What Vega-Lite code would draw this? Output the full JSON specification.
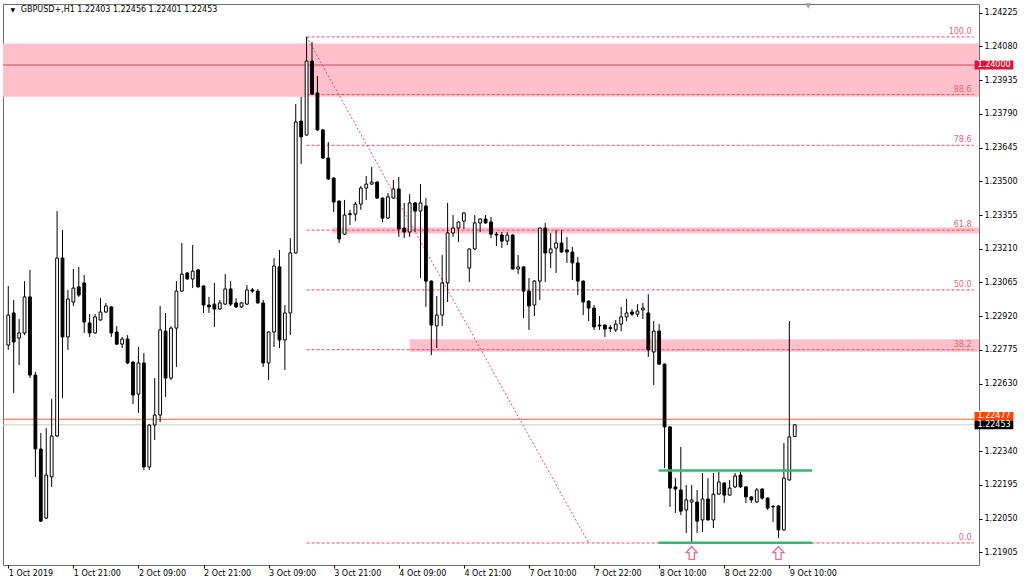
{
  "$schema": "https://vega.github.io/schema/vega-lite/v6.json",
  "width": 976,
  "height": 561,
  "autosize": {"type": "none"},
  "padding": {"left": 3, "top": 4, "right": 45, "bottom": 18},
  "background": "#ffffff",
  "config": {
    "view": {"stroke": "#6e6e6e", "strokeWidth": 1},
    "font": "DejaVu Sans",
    "axis": {"labelFont": "DejaVu Sans", "labelFontSize": 8, "labelColor": "#000000", "tickColor": "#000000", "grid": false, "domain": false, "title": null, "labelOverlap": false}
  },
  "resolve": {"axis": {"y": "independent"}},
  "data": {"values": [{}]},
  "datasets": {
    "bars": [
      {"n":0,"o":1.22796,"h":1.23050,"l":1.22775,"c":1.22925},
      {"n":1,"o":1.22934,"h":1.22990,"l":1.22590,"c":1.22809},
      {"n":2,"o":1.22826,"h":1.22908,"l":1.22710,"c":1.22848},
      {"n":3,"o":1.22848,"h":1.23071,"l":1.22839,"c":1.23003},
      {"n":4,"o":1.23003,"h":1.23119,"l":1.22654,"c":1.22667},
      {"n":5,"o":1.22667,"h":1.22680,"l":1.22229,"c":1.22349},
      {"n":6,"o":1.22349,"h":1.22418,"l":1.22035,"c":1.22039},
      {"n":7,"o":1.22052,"h":1.22439,"l":1.22048,"c":1.22237},
      {"n":8,"o":1.22229,"h":1.22564,"l":1.22186,"c":1.22405},
      {"n":9,"o":1.22405,"h":1.23372,"l":1.22400,"c":1.23170},
      {"n":10,"o":1.23170,"h":1.23291,"l":1.22568,"c":1.22831},
      {"n":11,"o":1.22831,"h":1.23033,"l":1.22775,"c":1.22994},
      {"n":12,"o":1.22981,"h":1.23123,"l":1.22964,"c":1.23041},
      {"n":13,"o":1.23046,"h":1.23132,"l":1.23003,"c":1.23011},
      {"n":14,"o":1.23063,"h":1.23097,"l":1.22848,"c":1.22895},
      {"n":15,"o":1.22891,"h":1.22929,"l":1.22831,"c":1.22848},
      {"n":16,"o":1.22848,"h":1.22929,"l":1.22845,"c":1.22917},
      {"n":17,"o":1.22904,"h":1.22998,"l":1.22900,"c":1.22938},
      {"n":18,"o":1.22938,"h":1.22977,"l":1.22934,"c":1.22964},
      {"n":19,"o":1.22960,"h":1.22963,"l":1.22831,"c":1.22848},
      {"n":20,"o":1.22852,"h":1.22878,"l":1.22796,"c":1.22800},
      {"n":21,"o":1.22800,"h":1.22831,"l":1.22783,"c":1.22822},
      {"n":22,"o":1.22822,"h":1.22839,"l":1.22714,"c":1.22719},
      {"n":23,"o":1.22723,"h":1.22726,"l":1.22542,"c":1.22581},
      {"n":24,"o":1.22585,"h":1.22788,"l":1.22504,"c":1.22719},
      {"n":25,"o":1.22719,"h":1.22762,"l":1.22259,"c":1.22272},
      {"n":26,"o":1.22272,"h":1.22455,"l":1.22259,"c":1.22452},
      {"n":27,"o":1.22452,"h":1.22654,"l":1.22388,"c":1.22495},
      {"n":28,"o":1.22495,"h":1.22964,"l":1.22465,"c":1.22861},
      {"n":29,"o":1.22856,"h":1.22934,"l":1.22573,"c":1.22654},
      {"n":30,"o":1.22654,"h":1.22877,"l":1.22646,"c":1.22869},
      {"n":31,"o":1.22869,"h":1.23071,"l":1.22702,"c":1.23028},
      {"n":32,"o":1.23028,"h":1.23235,"l":1.23025,"c":1.23101},
      {"n":33,"o":1.23106,"h":1.23109,"l":1.23077,"c":1.23080},
      {"n":34,"o":1.23080,"h":1.23226,"l":1.23041,"c":1.23114},
      {"n":35,"o":1.23119,"h":1.23122,"l":1.23043,"c":1.23046},
      {"n":36,"o":1.23050,"h":1.23053,"l":1.22934,"c":1.22968},
      {"n":37,"o":1.22968,"h":1.23003,"l":1.22934,"c":1.22960},
      {"n":38,"o":1.22972,"h":1.23063,"l":1.22874,"c":1.22951},
      {"n":39,"o":1.22951,"h":1.22990,"l":1.22947,"c":1.22977},
      {"n":40,"o":1.22972,"h":1.23101,"l":1.22969,"c":1.23037},
      {"n":41,"o":1.23037,"h":1.23071,"l":1.22964,"c":1.22972},
      {"n":42,"o":1.22977,"h":1.22998,"l":1.22955,"c":1.22960},
      {"n":43,"o":1.22960,"h":1.22981,"l":1.22955,"c":1.22977},
      {"n":44,"o":1.22972,"h":1.23054,"l":1.22969,"c":1.23033},
      {"n":45,"o":1.23033,"h":1.23041,"l":1.23020,"c":1.23028},
      {"n":46,"o":1.23028,"h":1.23036,"l":1.22974,"c":1.22977},
      {"n":47,"o":1.22977,"h":1.22990,"l":1.22702,"c":1.22719},
      {"n":48,"o":1.22719,"h":1.22855,"l":1.22646,"c":1.22852},
      {"n":49,"o":1.22852,"h":1.23170,"l":1.22788,"c":1.23136},
      {"n":50,"o":1.23132,"h":1.23205,"l":1.22783,"c":1.22818},
      {"n":51,"o":1.22818,"h":1.22968,"l":1.22689,"c":1.22934},
      {"n":52,"o":1.22934,"h":1.23256,"l":1.22839,"c":1.23192},
      {"n":53,"o":1.23192,"h":1.23832,"l":1.23189,"c":1.23755},
      {"n":54,"o":1.23759,"h":1.23863,"l":1.23574,"c":1.23691},
      {"n":55,"o":1.23699,"h":1.24121,"l":1.23696,"c":1.24017},
      {"n":56,"o":1.24017,"h":1.24099,"l":1.23872,"c":1.23875},
      {"n":57,"o":1.23880,"h":1.23953,"l":1.23716,"c":1.23721},
      {"n":58,"o":1.23721,"h":1.23724,"l":1.23596,"c":1.23600},
      {"n":59,"o":1.23600,"h":1.23669,"l":1.23506,"c":1.23510},
      {"n":60,"o":1.23514,"h":1.23517,"l":1.23368,"c":1.23411},
      {"n":61,"o":1.23415,"h":1.23418,"l":1.23235,"c":1.23252},
      {"n":62,"o":1.23273,"h":1.23420,"l":1.23270,"c":1.23355},
      {"n":63,"o":1.23357,"h":1.23377,"l":1.23312,"c":1.23361},
      {"n":64,"o":1.23359,"h":1.23411,"l":1.23329,"c":1.23402},
      {"n":65,"o":1.23402,"h":1.23480,"l":1.23377,"c":1.23471},
      {"n":66,"o":1.23471,"h":1.23523,"l":1.23420,"c":1.23488},
      {"n":67,"o":1.23488,"h":1.23562,"l":1.23485,"c":1.23497},
      {"n":68,"o":1.23497,"h":1.23500,"l":1.23425,"c":1.23428},
      {"n":69,"o":1.23428,"h":1.23431,"l":1.23325,"c":1.23342},
      {"n":70,"o":1.23342,"h":1.23450,"l":1.23339,"c":1.23433},
      {"n":71,"o":1.23428,"h":1.23506,"l":1.23425,"c":1.23467},
      {"n":72,"o":1.23467,"h":1.23519,"l":1.23261,"c":1.23295},
      {"n":73,"o":1.23299,"h":1.23407,"l":1.23256,"c":1.23282},
      {"n":74,"o":1.23282,"h":1.23445,"l":1.23261,"c":1.23407},
      {"n":75,"o":1.23407,"h":1.23410,"l":1.23282,"c":1.23372},
      {"n":76,"o":1.23372,"h":1.23488,"l":1.23084,"c":1.23407},
      {"n":77,"o":1.23394,"h":1.23428,"l":1.22960,"c":1.23071},
      {"n":78,"o":1.23071,"h":1.23074,"l":1.22753,"c":1.22882},
      {"n":79,"o":1.22878,"h":1.23007,"l":1.22783,"c":1.22925},
      {"n":80,"o":1.22925,"h":1.23183,"l":1.22878,"c":1.23063},
      {"n":81,"o":1.23063,"h":1.23407,"l":1.22981,"c":1.23278},
      {"n":82,"o":1.23278,"h":1.23355,"l":1.23261,"c":1.23299},
      {"n":83,"o":1.23299,"h":1.23328,"l":1.23239,"c":1.23325},
      {"n":84,"o":1.23329,"h":1.23367,"l":1.23295,"c":1.23364},
      {"n":85,"o":1.23127,"h":1.23212,"l":1.23067,"c":1.23209},
      {"n":86,"o":1.23209,"h":1.23355,"l":1.23205,"c":1.23321},
      {"n":87,"o":1.23321,"h":1.23341,"l":1.23282,"c":1.23338},
      {"n":88,"o":1.23338,"h":1.23355,"l":1.23318,"c":1.23321},
      {"n":89,"o":1.23325,"h":1.23347,"l":1.23256,"c":1.23273},
      {"n":90,"o":1.23273,"h":1.23282,"l":1.23222,"c":1.23269},
      {"n":91,"o":1.23269,"h":1.23282,"l":1.23213,"c":1.23243},
      {"n":92,"o":1.23243,"h":1.23282,"l":1.23226,"c":1.23269},
      {"n":93,"o":1.23269,"h":1.23273,"l":1.23120,"c":1.23123},
      {"n":94,"o":1.23123,"h":1.23183,"l":1.23101,"c":1.23132},
      {"n":95,"o":1.23132,"h":1.23135,"l":1.22912,"c":1.23028},
      {"n":96,"o":1.23028,"h":1.23084,"l":1.22861,"c":1.22964},
      {"n":97,"o":1.22968,"h":1.23075,"l":1.22921,"c":1.23071},
      {"n":98,"o":1.23071,"h":1.23302,"l":1.22990,"c":1.23299},
      {"n":99,"o":1.23299,"h":1.23321,"l":1.23067,"c":1.23192},
      {"n":100,"o":1.23192,"h":1.23278,"l":1.23127,"c":1.23209},
      {"n":101,"o":1.23213,"h":1.23291,"l":1.23106,"c":1.23235},
      {"n":102,"o":1.23235,"h":1.23291,"l":1.23192,"c":1.23196},
      {"n":103,"o":1.23205,"h":1.23261,"l":1.23149,"c":1.23196},
      {"n":104,"o":1.23196,"h":1.23218,"l":1.23076,"c":1.23149},
      {"n":105,"o":1.23149,"h":1.23175,"l":1.23011,"c":1.23071},
      {"n":106,"o":1.23071,"h":1.23074,"l":1.22925,"c":1.22981},
      {"n":107,"o":1.22985,"h":1.22988,"l":1.22899,"c":1.22955},
      {"n":108,"o":1.22955,"h":1.22968,"l":1.22861,"c":1.22874},
      {"n":109,"o":1.22882,"h":1.22921,"l":1.22861,"c":1.22878},
      {"n":110,"o":1.22882,"h":1.22885,"l":1.22831,"c":1.22865},
      {"n":111,"o":1.22871,"h":1.22882,"l":1.22852,"c":1.22867},
      {"n":112,"o":1.22861,"h":1.22904,"l":1.22852,"c":1.22886},
      {"n":113,"o":1.22886,"h":1.22960,"l":1.22856,"c":1.22917},
      {"n":114,"o":1.22917,"h":1.22994,"l":1.22899,"c":1.22934},
      {"n":115,"o":1.22938,"h":1.22951,"l":1.22921,"c":1.22929},
      {"n":116,"o":1.22929,"h":1.22972,"l":1.22917,"c":1.22942},
      {"n":117,"o":1.22947,"h":1.22977,"l":1.22908,"c":1.22955},
      {"n":118,"o":1.22934,"h":1.23015,"l":1.22745,"c":1.22775},
      {"n":119,"o":1.22766,"h":1.22899,"l":1.22624,"c":1.22856},
      {"n":120,"o":1.22856,"h":1.22886,"l":1.22711,"c":1.22714},
      {"n":121,"o":1.22714,"h":1.22717,"l":1.22267,"c":1.22444},
      {"n":122,"o":1.22444,"h":1.22447,"l":1.22100,"c":1.22181},
      {"n":123,"o":1.22186,"h":1.22224,"l":1.22074,"c":1.22177},
      {"n":124,"o":1.22173,"h":1.22358,"l":1.22065,"c":1.22082},
      {"n":125,"o":1.22087,"h":1.22194,"l":1.21988,"c":1.22130},
      {"n":126,"o":1.22121,"h":1.22194,"l":1.21945,"c":1.22130},
      {"n":127,"o":1.22121,"h":1.22173,"l":1.21988,"c":1.22039},
      {"n":128,"o":1.22044,"h":1.22246,"l":1.21992,"c":1.22134},
      {"n":129,"o":1.22134,"h":1.22224,"l":1.22041,"c":1.22044},
      {"n":130,"o":1.22044,"h":1.22246,"l":1.22009,"c":1.22155},
      {"n":131,"o":1.22155,"h":1.22250,"l":1.22152,"c":1.22207},
      {"n":132,"o":1.22203,"h":1.22206,"l":1.22117,"c":1.22151},
      {"n":133,"o":1.22151,"h":1.22216,"l":1.22148,"c":1.22181},
      {"n":134,"o":1.22186,"h":1.22246,"l":1.22181,"c":1.22233},
      {"n":135,"o":1.22237,"h":1.22250,"l":1.22181,"c":1.22186},
      {"n":136,"o":1.22186,"h":1.22189,"l":1.22117,"c":1.22143},
      {"n":137,"o":1.22143,"h":1.22146,"l":1.22117,"c":1.22130},
      {"n":138,"o":1.22121,"h":1.22181,"l":1.22117,"c":1.22173},
      {"n":139,"o":1.22177,"h":1.22180,"l":1.22131,"c":1.22138},
      {"n":140,"o":1.22138,"h":1.22141,"l":1.22087,"c":1.22095},
      {"n":141,"o":1.22100,"h":1.22108,"l":1.22035,"c":1.22102},
      {"n":142,"o":1.22104,"h":1.22107,"l":1.21966,"c":1.22001},
      {"n":143,"o":1.22001,"h":1.22375,"l":1.21998,"c":1.22224},
      {"n":144,"o":1.22216,"h":1.22899,"l":1.22213,"c":1.22401},
      {"n":145,"o":1.22403,"h":1.22456,"l":1.22401,"c":1.22453}
    ],
    "fib": [
      {"lvl":"100.0","p":1.24121},
      {"lvl":"88.6","p":1.23873},
      {"lvl":"78.6","p":1.23655},
      {"lvl":"61.8","p":1.23290},
      {"lvl":"50.0","p":1.23033},
      {"lvl":"38.2","p":1.22776},
      {"lvl":"0.0","p":1.21945}
    ],
    "zones": [
      {"from":-3,"p1":1.24093,"p2":1.23864},
      {"from":59.8,"p1":1.23301,"p2":1.23276},
      {"from":74,"p1":1.22821,"p2":1.22767}
    ],
    "green": [
      {"p":1.22257},
      {"p":1.21946}
    ],
    "arrows": [
      {"n":126,"p":1.21902},
      {"n":142,"p":1.21902}
    ]
  },
  "layer": [
    {
      "data": {"name": "zones"},
      "mark": {"type": "rect", "fill": "#ffc0cb", "clip": true},
      "encoding": {
        "x": {"field": "from", "type": "quantitative", "scale": {"domain": [-0.05, 178.05], "nice": false, "zero": false},
          "axis": {"orient": "bottom", "values": [0,12,24,36,48,60,72,84,96,108,120,132,144], "labelExpr": "['1 Oct 2019','1 Oct 21:00','2 Oct 09:00','2 Oct 21:00','3 Oct 09:00','3 Oct 21:00','4 Oct 09:00','4 Oct 21:00','7 Oct 10:00','7 Oct 22:00','8 Oct 10:00','8 Oct 22:00','9 Oct 10:00'][round(datum.value/12)]", "labelAlign": "left", "labelBaseline": "top", "tickSize": 3, "labelPadding": 1, "labelFlush": false, "labelOverlap": false, "labelBound": false}},
        "x2": {"datum": 180},
        "y": {"field": "p1", "type": "quantitative", "scale": {"domain": [1.218503, 1.242624], "nice": false, "zero": false},
          "axis": {"orient": "right", "values": [1.21905,1.22050,1.22195,1.22340,1.22630,1.22775,1.22920,1.23065,1.23210,1.23355,1.23500,1.23645,1.23790,1.23935,1.24080,1.24225], "format": ".5f", "tickSize": 3, "labelPadding": 2, "labelOverlap": false, "labelBound": false, "labelAlign": "left", "labelBaseline": "middle"}},
        "y2": {"field": "p2"}
      }
    },
    {
      "mark": {"type": "rule", "color": "#e0405a", "strokeWidth": 1},
      "encoding": {"y": {"datum": 1.24, "type": "quantitative", "axis": null}}
    },
    {
      "data": {"name": "fib"},
      "mark": {"type": "rule", "color": "#e84a64", "strokeWidth": 1, "strokeDash": [3, 2]},
      "encoding": {
        "x": {"datum": 55, "type": "quantitative"},
        "x2": {"datum": 178},
        "y": {"field": "p", "type": "quantitative", "axis": null}
      }
    },
    {
      "data": {"name": "fib"},
      "mark": {"type": "text", "align": "right", "baseline": "bottom", "dy": -1, "fontSize": 8, "font": "DejaVu Sans", "color": "#e8607a"},
      "encoding": {
        "x": {"datum": 177.6, "type": "quantitative"},
        "y": {"field": "p", "type": "quantitative", "axis": null},
        "text": {"field": "lvl"}
      }
    },
    {
      "mark": {"type": "rule", "color": "#e84a64", "strokeWidth": 1, "strokeDash": [2, 2]},
      "encoding": {
        "x": {"datum": 55, "type": "quantitative"},
        "y": {"datum": 1.24121, "type": "quantitative", "axis": null},
        "x2": {"datum": 107},
        "y2": {"datum": 1.21945}
      }
    },
    {
      "mark": {"type": "rule", "color": "#ff5a36", "strokeWidth": 1},
      "encoding": {"y": {"datum": 1.22477, "type": "quantitative", "axis": null}}
    },
    {
      "mark": {"type": "rule", "color": "#c8c8c8", "strokeWidth": 1},
      "encoding": {"y": {"datum": 1.22453, "type": "quantitative", "axis": null}}
    },
    {
      "data": {"name": "bars"},
      "mark": {"type": "rule", "color": "#000000", "strokeWidth": 1},
      "encoding": {
        "x": {"field": "n", "type": "quantitative"},
        "y": {"field": "l", "type": "quantitative", "axis": null},
        "y2": {"field": "h"}
      }
    },
    {
      "data": {"name": "bars"},
      "mark": {"type": "bar", "width": 2.8, "stroke": "#000000", "strokeWidth": 1},
      "encoding": {
        "x": {"field": "n", "type": "quantitative"},
        "y": {"field": "o", "type": "quantitative", "axis": null},
        "y2": {"field": "c"},
        "fill": {"condition": {"test": "datum.c >= datum.o", "value": "#ffffff"}, "value": "#000000"}
      }
    },
    {
      "data": {"name": "green"},
      "mark": {"type": "rule", "color": "#3cb371", "strokeWidth": 2.5},
      "encoding": {
        "x": {"datum": 119.9, "type": "quantitative"},
        "x2": {"datum": 148.2},
        "y": {"field": "p", "type": "quantitative", "axis": null}
      }
    },
    {
      "data": {"name": "arrows"},
      "mark": {"type": "point", "shape": "M0,-1L0.85,-0.05L0.4,-0.05L0.4,1L-0.4,1L-0.4,-0.05L-0.85,-0.05Z", "size": 169, "filled": false, "fill": "#ffffff", "fillOpacity": 1, "stroke": "#f06080", "strokeWidth": 1.2, "opacity": 1},
      "encoding": {
        "x": {"field": "n", "type": "quantitative"},
        "y": {"field": "p", "type": "quantitative", "axis": null}
      }
    },
    {
      "mark": {"type": "rect", "fill": "#dc143c", "clip": false},
      "encoding": {
        "x": {"datum": 178.15, "type": "quantitative"},
        "x2": {"datum": 185.3},
        "y": {"datum": 1.240194, "type": "quantitative", "axis": null},
        "y2": {"datum": 1.239808}
      }
    },
    {
      "mark": {"type": "text", "text": "1.24000", "align": "left", "baseline": "middle", "fontSize": 8, "font": "DejaVu Sans", "color": "#ffffff"},
      "encoding": {
        "x": {"datum": 178.7, "type": "quantitative"},
        "y": {"datum": 1.24, "type": "quantitative", "axis": null}
      }
    },
    {
      "mark": {"type": "rect", "fill": "#ff4500", "clip": false},
      "encoding": {
        "x": {"datum": 178.15, "type": "quantitative"},
        "x2": {"datum": 185.3},
        "y": {"datum": 1.22508, "type": "quantitative", "axis": null},
        "y2": {"datum": 1.224693}
      }
    },
    {
      "mark": {"type": "text", "text": "1.22477", "align": "left", "baseline": "middle", "fontSize": 8, "font": "DejaVu Sans", "color": "#ffffff"},
      "encoding": {
        "x": {"datum": 178.7, "type": "quantitative"},
        "y": {"datum": 1.22489, "type": "quantitative", "axis": null}
      }
    },
    {
      "mark": {"type": "rect", "fill": "#000000", "clip": false},
      "encoding": {
        "x": {"datum": 178.15, "type": "quantitative"},
        "x2": {"datum": 185.3},
        "y": {"datum": 1.224706, "type": "quantitative", "axis": null},
        "y2": {"datum": 1.224336}
      }
    },
    {
      "mark": {"type": "text", "text": "1.22453", "align": "left", "baseline": "middle", "fontSize": 8, "font": "DejaVu Sans", "color": "#ffffff"},
      "encoding": {
        "x": {"datum": 178.7, "type": "quantitative"},
        "y": {"datum": 1.22453, "type": "quantitative", "axis": null}
      }
    },
    {
      "mark": {"type": "text", "text": "▼", "align": "center", "baseline": "middle", "fontSize": 6, "font": "DejaVu Sans", "color": "#000000"},
      "encoding": {
        "x": {"datum": 0.86, "type": "quantitative"},
        "y": {"datum": 1.24237, "type": "quantitative", "axis": null}
      }
    },
    {
      "mark": {"type": "text", "text": "GBPUSD+,H1  1.22403 1.22456 1.22401 1.22453", "align": "left", "baseline": "middle", "fontSize": 8, "font": "DejaVu Sans", "color": "#000000"},
      "encoding": {
        "x": {"datum": 2.32, "type": "quantitative"},
        "y": {"datum": 1.24237, "type": "quantitative", "axis": null}
      }
    },
    {
      "mark": {"type": "point", "shape": "triangle-down", "size": 40, "filled": true, "color": "#a0a0a0", "opacity": 1},
      "encoding": {
        "x": {"datum": 147.5, "type": "quantitative"},
        "y": {"datum": 1.24254, "type": "quantitative", "axis": null}
      }
    }
  ]
}
